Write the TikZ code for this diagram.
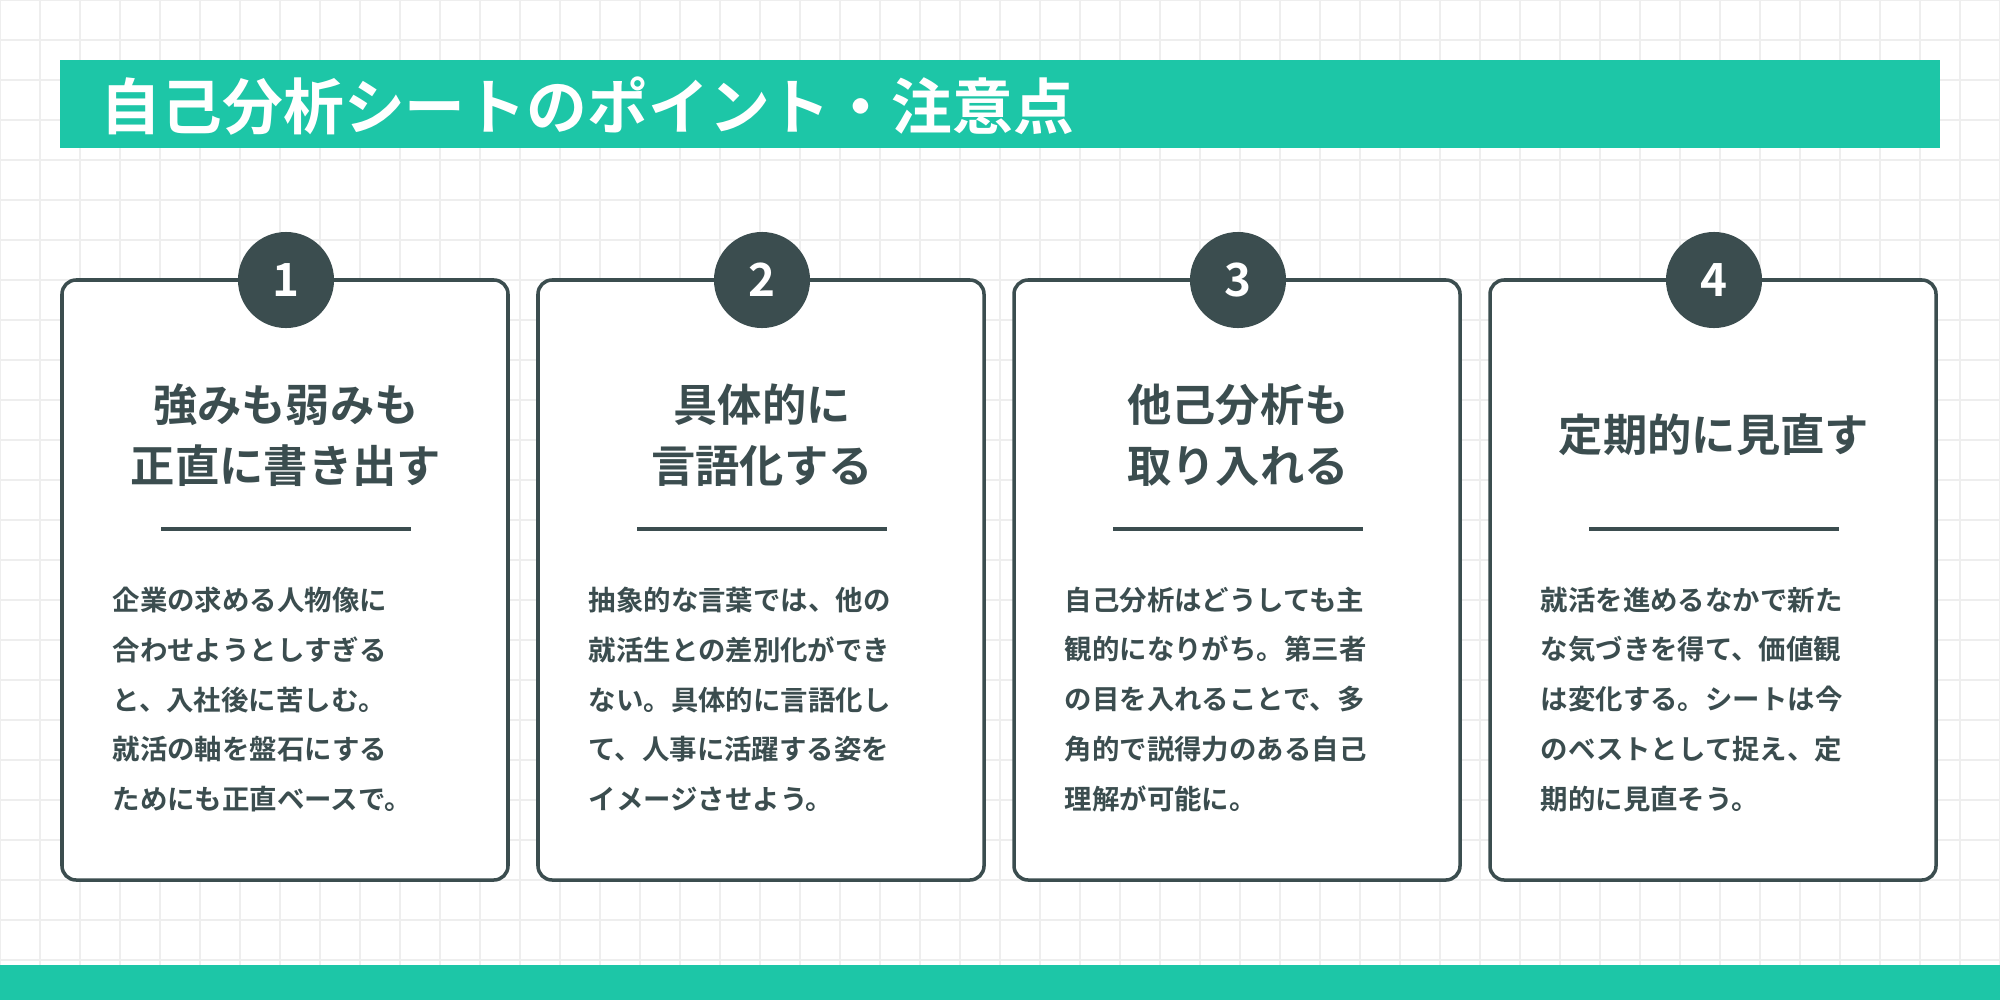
\documentclass[tikz,border=0pt]{standalone}
\usepackage{fontspec}
\setmainfont{Noto Sans CJK JP}[BoldFont={* Bold}]
\definecolor{teal}{HTML}{1DC6A7}
\definecolor{ink}{HTML}{3B4D4F}
\definecolor{gridc}{HTML}{EEEEEE}
\tikzset{
 card/.style={draw=ink,line width=1pt,fill=white,rounded corners=4pt},
 numc/.style={circle,fill=ink,minimum size=0.96cm,inner sep=0pt,text=white,font=\fontsize{13pt}{13pt}\bfseries},
 head/.style={text=ink,font=\fontsize{12.6pt}{17.5pt}\bfseries,align=center},
 body/.style={text=ink,font=\fontsize{7.8pt}{14.2pt}\bfseries,align=left,anchor=north west,inner sep=0pt}
}
\begin{document}
\begin{tikzpicture}[x=0.01cm,y=-0.01cm]
\useasboundingbox (0,0) rectangle (2000,1000);
\fill[white] (0,0) rectangle (2000,1000);
\foreach \i in {0,40,...,2000} \draw[gridc,line width=0.4pt] (\i,0) -- (\i,1000);
\foreach \j in {0,40,...,1000} \draw[gridc,line width=0.4pt] (0,\j) -- (2000,\j);
\fill[teal] (60,60) rectangle (1940,148);
\node[anchor=west,text=white,font=\fontsize{17.3pt}{17.3pt}\bfseries,inner sep=0pt] (title) at (100,106) {自己分析シートのポイント・注意点};
\fill[teal] (0,965) rectangle (2000,1000);
\foreach \n/\x/\h/\b in {
 1/62/{強みも弱みも\\正直に書き出す}/{企業の求める人物像に\\合わせようとしすぎる\\と、入社後に苦しむ。\\就活の軸を盤石にする\\ためにも正直ベースで。},
 2/538/{具体的に\\言語化する}/{抽象的な言葉では、他の\\就活生との差別化ができ\\ない。具体的に言語化し\\て、人事に活躍する姿を\\イメージさせよう。},
 3/1014/{他己分析も\\取り入れる}/{自己分析はどうしても主\\観的になりがち。第三者\\の目を入れることで、多\\角的で説得力のある自己\\理解が可能に。},
 4/1490/{定期的に見直す}/{就活を進めるなかで新た\\な気づきを得て、価値観\\は変化する。シートは今\\のベストとして捉え、定\\期的に見直そう。}} {
 \draw[card] (\x,280) rectangle ++(446,600);
 \node[numc] (c\n) at (\x+224,280) {\n};
 \node[head] (h\n) at (\x+224,435) {\h};
 \draw[ink,line width=1.2pt] (\x+99,529) -- (\x+349,529);
 \node[body] (b\n) at (\x+50,586) {\b};
}
\end{tikzpicture}
\end{document}
